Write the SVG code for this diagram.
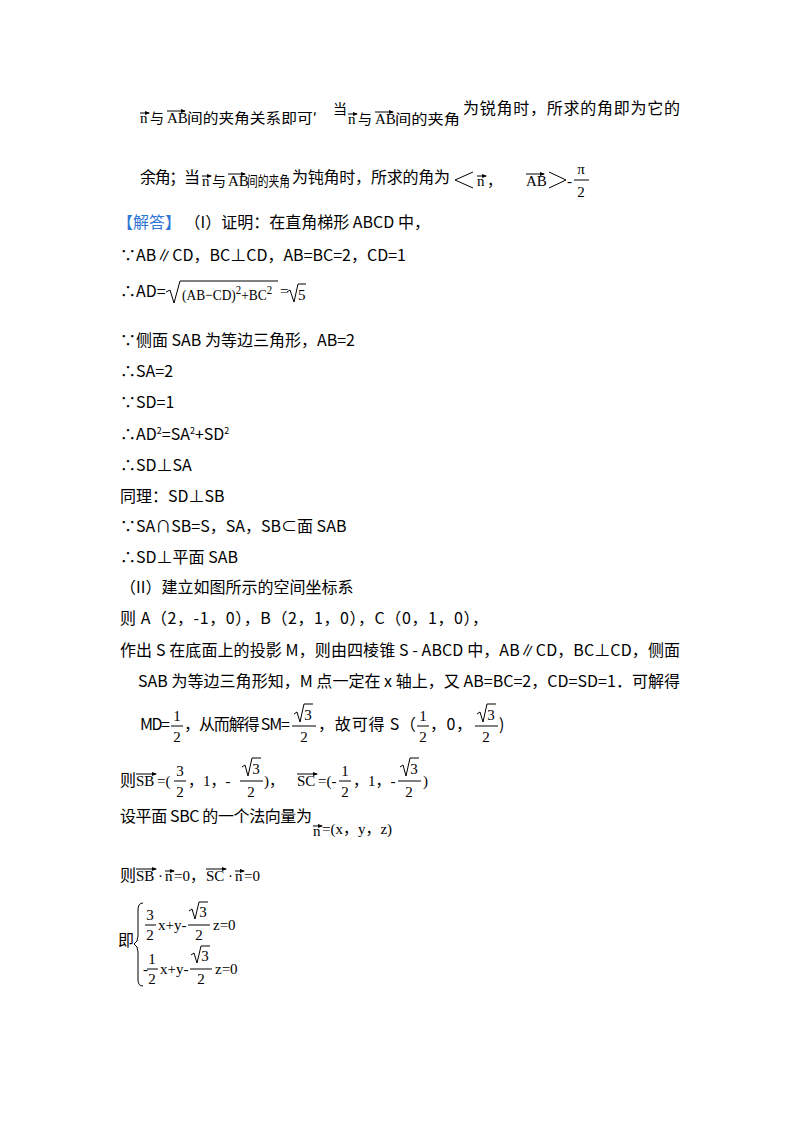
<svg xmlns="http://www.w3.org/2000/svg" width="800" height="1132" viewBox="0 0 800 1132">
<style>
.t{font-family:"Noto Sans CJK SC","Noto Sans",sans-serif;font-size:16px;fill:#000}
.s{font-family:"Liberation Serif","Noto Sans CJK SC",serif;font-size:15px;fill:#000}
.f{font-family:"Liberation Serif",serif;font-size:15px;fill:#000;text-anchor:middle}
.k{font-family:"Noto Sans CJK SC",sans-serif;font-size:14px;fill:#000}
.ln{stroke:#000;stroke-width:1;fill:none}
</style>
<defs>
<marker id="ah" markerWidth="5" markerHeight="4" refX="4" refY="2" orient="auto" markerUnits="userSpaceOnUse"><path d="M0,0L5,2L0,4z" fill="#000"/></marker>
</defs>
<rect width="800" height="1132" fill="#fff"/>
<!-- line 1 -->
<text class="s" x="140" y="123">n</text><path class="ln" d="M140,113H149" marker-end="url(#ah)"/>
<text class="k" x="150" y="123">与</text>
<text class="s" x="167" y="123" font-size="12">AB</text><path class="ln" d="M167,111H185" marker-end="url(#ah)"/>
<text class="k" x="187" y="123" textLength="130" lengthAdjust="spacingAndGlyphs">间的夹角关系即可′</text>
<text class="k" x="333" y="114">当</text>
<text class="s" x="348" y="124">n</text><path class="ln" d="M348,114H357" marker-end="url(#ah)"/>
<text class="k" x="358" y="124">与</text>
<text class="s" x="375" y="124" font-size="12">AB</text><path class="ln" d="M375,112H393" marker-end="url(#ah)"/>
<text class="k" x="395" y="124" textLength="65" lengthAdjust="spacingAndGlyphs">间的夹角</text>
<text class="t" x="463" y="114" textLength="217">为锐角时，所求的角即为它的</text>
<!-- line 2 -->
<text class="t" x="140" y="183" textLength="60">余角；当</text>
<text class="s" x="202" y="186">n</text><path class="ln" d="M202,176H211" marker-end="url(#ah)"/>
<text class="k" x="212" y="186">与</text>
<text class="s" x="228" y="186" font-size="12">AB</text><path class="ln" d="M228,174H245" marker-end="url(#ah)"/>
<text class="k" x="247" y="186" textLength="43" lengthAdjust="spacingAndGlyphs">间的夹角</text>
<text class="t" x="292" y="183" textLength="158">为钝角时，所求的角为</text>
<path class="ln" d="M473,172L455,180L473,188"/>
<text class="s" x="477" y="186">n</text><path class="ln" d="M477,176H486" marker-end="url(#ah)"/>
<text class="s" x="487" y="186">，</text>
<text class="s" x="526" y="186" font-size="12">AB</text><path class="ln" d="M526,174H544" marker-end="url(#ah)"/>
<path class="ln" d="M549,172L566,180L549,188"/>
<text class="s" x="567" y="186">-</text>
<text class="f" x="581" y="174">π</text><path class="ln" d="M574,180H589"/><text class="f" x="581" y="197">2</text>
<!-- 解答 -->
<text class="t" x="117" y="228"><tspan fill="#2e75d6">【解答】</tspan> （I）证明：在直角梯形 ABCD 中，</text>
<text class="t" x="120" y="261">∵AB∥CD，BC⊥CD，AB=BC=2，CD=1</text>
<text class="t" x="120" y="297">∴AD=</text>
<path class="ln" d="M166,292L170,290L174,303L180,281H278"/>
<text class="s" x="182" y="300" textLength="90" lengthAdjust="spacingAndGlyphs">(AB−CD)<tspan dy="-6" font-size="12">2</tspan><tspan dy="6">+BC</tspan><tspan dy="-6" font-size="12">2</tspan></text>
<text class="s" x="280" y="296">=</text>
<path class="ln" d="M287,292L290,290L294,302L298,284H306"/>
<text class="s" x="298" y="300">5</text>
<text class="t" x="120" y="346">∵侧面 SAB 为等边三角形，AB=2</text>
<text class="t" x="120" y="377">∴SA=2</text>
<text class="t" x="120" y="408">∵SD=1</text>
<text class="t" x="120" y="440">∴AD<tspan dy="-6" font-size="9">2</tspan><tspan dy="6">=SA</tspan><tspan dy="-6" font-size="9">2</tspan><tspan dy="6">+SD</tspan><tspan dy="-6" font-size="9">2</tspan></text>
<text class="t" x="120" y="471">∴SD⊥SA</text>
<text class="t" x="120" y="502">同理：SD⊥SB</text>
<text class="t" x="120" y="532">∵SA∩SB=S，SA，SB⊂面 SAB</text>
<text class="t" x="120" y="563">∴SD⊥平面 SAB</text>
<text class="t" x="120" y="593">（II）建立如图所示的空间坐标系</text>
<text class="t" x="120" y="624" textLength="368">则 A（2，-1，0），B（2，1，0），C（0，1，0），</text>
<text class="t" x="120" y="656" textLength="560">作出 S 在底面上的投影 M，则由四棱锥 S - ABCD 中，AB∥CD，BC⊥CD，侧面</text>
<text class="t" x="138" y="687" textLength="542">SAB 为等边三角形知，M 点一定在 x 轴上，又 AB=BC=2，CD=SD=1．可解得</text>
<!-- MD line -->
<text class="t" x="140" y="730" textLength="30">MD=</text>
<text class="f" x="177" y="721">1</text><path class="ln" d="M171,726H183"/><text class="f" x="177" y="742">2</text>
<text class="t" x="184" y="730" textLength="106">，从而解得 SM=</text>
<path class="ln" d="M294,714L297,712L300,722L304,704H313"/><text class="f" x="308" y="720">3</text>
<path class="ln" d="M292,726H316"/><text class="f" x="304" y="742">2</text>
<text class="t" x="318" y="730" textLength="98">，故可得 S（</text>
<text class="f" x="423" y="721">1</text><path class="ln" d="M417,726H429"/><text class="f" x="423" y="742">2</text>
<text class="t" x="430" y="730" textLength="42">，0，</text>
<path class="ln" d="M477,714L480,712L483,722L487,704H496"/><text class="f" x="491" y="720">3</text>
<path class="ln" d="M475,726H498"/><text class="f" x="486" y="742">2</text>
<text class="t" x="499" y="730">)</text>
<!-- SB SC -->
<text class="t" x="120" y="786">则</text>
<text class="s" x="136" y="786" font-size="13">SB</text><path class="ln" d="M136,774H156" marker-end="url(#ah)"/>
<text class="s" x="157" y="786">=(</text>
<text class="f" x="180" y="776">3</text><path class="ln" d="M174,781H186"/><text class="f" x="180" y="797">2</text>
<text class="s" x="188" y="786">，1，-</text>
<path class="ln" d="M242,767L245,765L248,776L252,758H261"/><text class="f" x="256" y="774">3</text>
<path class="ln" d="M240,781H263"/><text class="f" x="251" y="797">2</text>
<text class="s" x="264" y="786">)，</text>
<text class="s" x="297" y="786" font-size="13">SC</text><path class="ln" d="M297,774H317" marker-end="url(#ah)"/>
<text class="s" x="318" y="786">=(-</text>
<text class="f" x="345" y="776">1</text><path class="ln" d="M339,781H351"/><text class="f" x="345" y="797">2</text>
<text class="s" x="353" y="786">，1，-</text>
<path class="ln" d="M400,767L403,765L406,776L410,758H419"/><text class="f" x="414" y="774">3</text>
<path class="ln" d="M398,781H421"/><text class="f" x="409" y="797">2</text>
<text class="s" x="423" y="786">)</text>
<!-- normal -->
<text class="t" x="120" y="822" textLength="192">设平面 SBC 的一个法向量为</text>
<text class="s" x="313" y="836">n</text><path class="ln" d="M313,826H322" marker-end="url(#ah)"/>
<text class="s" x="322" y="834">=(x，y，z)</text>
<text class="t" x="120" y="881">则</text>
<text class="s" x="136" y="881" font-size="13">SB</text><path class="ln" d="M136,869H156" marker-end="url(#ah)"/>
<text class="s" x="158" y="881">·</text>
<text class="s" x="165" y="881">n</text><path class="ln" d="M165,871H174" marker-end="url(#ah)"/>
<text class="s" x="174" y="881">=0，</text>
<text class="s" x="206" y="881" font-size="13">SC</text><path class="ln" d="M206,869H226" marker-end="url(#ah)"/>
<text class="s" x="228" y="881">·</text>
<text class="s" x="235" y="881">n</text><path class="ln" d="M235,871H244" marker-end="url(#ah)"/>
<text class="s" x="244" y="881">=0</text>
<!-- system -->
<text class="t" x="118" y="946">即</text>
<path class="ln" d="M143,903Q138,903 138,910V936Q138,942 134,944Q138,946 138,952V980Q138,986 143,986"/>
<text class="f" x="150" y="920">3</text><path class="ln" d="M145,925H156"/><text class="f" x="150" y="940">2</text>
<text class="s" x="158" y="930" font-size="13">x+y-</text>
<path class="ln" d="M189,911L192,909L195,919L199,902H208"/><text class="f" x="203" y="917">3</text>
<path class="ln" d="M188,925H210"/><text class="f" x="199" y="940">2</text>
<text class="s" x="213" y="930" font-size="13">z=0</text>
<text class="s" x="143" y="974">-</text>
<text class="f" x="152" y="964">1</text><path class="ln" d="M147,969H158"/><text class="f" x="152" y="984">2</text>
<text class="s" x="160" y="974" font-size="13">x+y-</text>
<path class="ln" d="M191,955L194,953L197,963L201,946H210"/><text class="f" x="205" y="961">3</text>
<path class="ln" d="M190,969H212"/><text class="f" x="201" y="984">2</text>
<text class="s" x="215" y="974" font-size="13">z=0</text>
</svg>
